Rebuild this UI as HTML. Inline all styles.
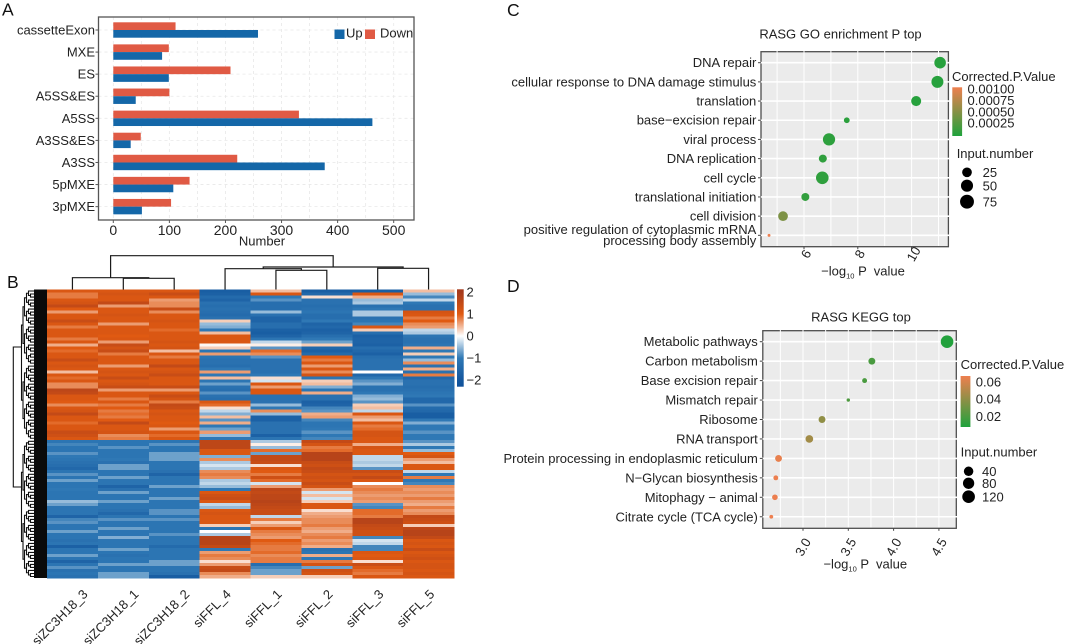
<!DOCTYPE html>
<html lang="en">
<head>
<meta charset="utf-8">
<title>Alternative splicing and RASG enrichment figure</title>
<style>
html,body{margin:0;padding:0;background:#fff;}
svg{display:block;}
text{font-family:"Liberation Sans",Arial,sans-serif;fill:#222;}
.t12{font-size:12px;}
.t13{font-size:13px;}
.t14{font-size:14px;}
.letter{font-size:17.5px;fill:#111;}
</style>
</head>
<body>
<svg id="figure" xmlns="http://www.w3.org/2000/svg" width="1065" height="644" viewBox="0 0 1065 644">
  <defs id="defs"></defs>
  <rect x="0" y="0" width="1065" height="644" fill="#fff"/>

  <text class="letter" x="2" y="15.5">A</text>
  <text class="letter" x="7" y="288">B</text>
  <text class="letter" x="507" y="16">C</text>
  <text class="letter" x="507" y="292">D</text>

  <g id="panelA"></g>
  <text class="t13" x="262" y="245.5" text-anchor="middle">Number</text>
  <rect x="334.5" y="29.5" width="10" height="9.5" fill="#1467a8"/>
  <text class="t13" x="346" y="37.5">Up</text>
  <rect x="365" y="29.5" width="10" height="9.5" fill="#e05a44"/>
  <text class="t13" x="380" y="37.5">Down</text>

  <g id="panelB"></g>

  <g id="panelC"></g>
  <text class="t13" x="840.5" y="38.5" text-anchor="middle">RASG GO enrichment P top</text>
  <text class="t13" x="863" y="275.5" text-anchor="middle" xml:space="preserve">−log<tspan font-size="7.5" dy="3">10</tspan><tspan dy="-3"> P  value</tspan></text>
  <text class="t13" x="952" y="81">Corrected.P.Value</text>
  <text class="t13" x="956.7" y="158">Input.number</text>

  <g id="panelD"></g>
  <text class="t13" x="861" y="321.5" text-anchor="middle">RASG KEGG top</text>
  <text class="t13" x="865.3" y="568.5" text-anchor="middle" xml:space="preserve">−log<tspan font-size="7.5" dy="3">10</tspan><tspan dy="-3"> P  value</tspan></text>
  <text class="t13" x="960.6" y="369">Corrected.P.Value</text>
  <text class="t13" x="960.6" y="456.5">Input.number</text>
</svg>

<script>
/* ---------- Panel A data ---------- */
const splicingTypes = ['cassetteExon','MXE','ES','A5SS&ES','A5SS','A3SS&ES','A3SS','5pMXE','3pMXE'];
const upCounts = [258,87,99,40,462,31,377,107,51];
const downCounts = [111,99,209,100,331,49,221,136,103];
const barTicks = [0,100,200,300,400,500];
const barGridValues = [0,50,100,150,200,250,300,350,400,450,500];

/* ---------- Panel B data ---------- */
const sampleNames = ['siZC3H18_3','siZC3H18_1','siZC3H18_2','siFFL_4','siFFL_1','siFFL_2','siFFL_3','siFFL_5'];
const siZC3H18_3 = [1.1,.8,.8,1.1,1.2,1.5,1.0,.6,1.1,1.1,
1.4,1.1,.8,1.1,1.1,1.1,.8,1.1,.5,1.0,
.9,1.1,1.1,1.4,1.1,1.2,1.1,.4,1.1,.9,
1.1,.7,.7,1.6,1.5,1.1,1.1,1.0,.7,1.1,
1.2,1.5,1.1,1.1,.9,1.1,1.1,1.4,1.3,1.1,
-1.1,-.9,-1.1,-1.1,-.8,-1.0,-1.1,-1.2,-1.3,-1.5,
-1.1,-.8,-1.1,-.7,-1.1,-1.1,-1.0,-1.1,-1.1,-1.1,
-.5,-.7,-1.1,-1.1,-1.1,-1.6,-.9,-.8,-1.1,-1.1,
-.7,-1.1,-1.1,-1.2,-1.1,-1.7,-1.1,-1.1,-.7,-1.1,
-1.6,-1.1,-.8,-1.2,-1.1,-1.2];
const siZC3H18_1 = [1.1,1.2,1.1,1.1,1.5,.6,1.1,1.1,1.2,1.1,
1.1,.6,1.1,1.1,1.1,1.0,1.1,.6,1.4,1.2,
1.4,.8,1.1,1.1,1.1,.6,1.1,1.2,1.1,1.4,
1.1,1.2,1.4,.6,1.1,1.1,.8,1.1,.8,1.0,
.8,.9,.8,1.0,1.5,1.1,1.1,1.2,.7,.8,
-1.1,-1.1,-.8,-1.1,-1.1,-1.1,-1.0,-1.2,-.7,-.7,
-1.1,-1.1,-.7,-1.1,-1.1,-1.6,-1.2,-.7,-1.1,-1.1,
-.7,-1.1,-1.1,-1.2,-1.5,-1.1,-.8,-1.1,-1.1,-.7,
-1.1,-1.1,-.6,-1.1,-1.1,-1.1,-.7,-1.1,-1.2,-1.1,
-1.1,-.7,-1.1,-1.1,-.7,-.7];
const siZC3H18_2 = [1.1,1.4,1.1,.6,.7,.7,1.4,.7,1.1,1.1,
1.2,1.1,1.1,.9,1.1,1.1,1.1,1.2,1.1,1.2,
.4,1.1,.8,1.1,1.1,1.5,1.1,1.2,1.4,1.1,
1.1,1.1,1.4,.6,1.1,1.4,1.2,.8,1.5,1.4,
1.1,1.2,1.1,1.1,1.0,1.1,.6,1.1,.9,1.1,
-1.1,-.8,-1.1,-1.1,-.7,-.7,-.7,-1.1,-1.1,-1.1,
-1.2,-1.6,-1.1,-1.1,-1.1,-.7,-1.1,-1.1,-1.1,-.7,
-1.1,-1.1,-1.1,-.8,-.8,-1.1,-.8,-1.1,-1.1,-1.1,
-1.1,-.8,-1.1,-1.1,-1.1,-1.4,-1.1,-1.1,-1.1,-1.1,
-.7,-.7,-1.1,-1.1,-1.2,-1.8];
const siFFL_4 = [-1.8,-1.7,-1.4,-1.6,-1.2,-1.3,-1.2,-1.3,-1.4,-1.2,
.3,-.5,-.6,-1.0,.4,1.1,1.1,1.1,.05,.3,
-1.1,.6,-1.1,-1.2,-1.2,-1.3,-1.0,.6,-1.0,.4,
-1.1,-.7,-1.2,-1.3,-.8,-1.2,-1.3,1.1,.9,.2,
-.3,-.6,.4,-.8,.5,-1.0,-.7,.6,-.5,-1.0,
1.6,1.6,1.6,1.1,1.1,-.6,.7,-.4,-.2,-.4,
.7,.8,.7,-.4,-.3,-.5,-1.0,1.1,1.3,1.4,
1.1,-.3,-.5,1.1,1.2,1.1,1.1,1.1,.3,-1.1,
0,-.4,1.7,1.7,1.7,1.5,-1.0,.6,.8,.7,
.2,.6,1.4,1.5,.7,.5];
const siFFL_1 = [.4,1.1,-1.0,-.8,-1.3,-1.3,-1.3,-.5,-1.2,-1.6,
-1.6,-1.3,-1.3,-1.7,-1.8,-1.6,-1.1,-.3,.1,-.8,
.9,.7,-.8,-1.2,-1.2,-1.2,-1.2,-1.2,-1.0,.2,
-.2,1.1,.6,1.1,1.1,-1.2,-1.2,-1.2,-.5,-1.0,
.7,-.5,-1.7,-1.7,-1.2,-1.2,-1.2,-1.2,-1.7,-1.1,
-.4,.1,-.5,.9,-.7,1.5,1.5,1.4,.2,1.1,
1.0,.8,1.3,.9,-.2,.6,1.6,1.5,1.6,1.6,
1.7,1.6,1.5,1.4,1.4,-.3,.8,.3,.6,1.1,
.8,.7,.6,1.0,.9,.8,.8,.9,.7,.8,
.8,-1.3,-.9,-.7,-.7,.3];
const siFFL_2 = [-1.8,-1.5,.2,-1.2,-1.2,-1.3,-1.2,-1.1,-1.3,-1.3,
-1.0,-1.6,-1.5,-1.7,-1.6,-1.3,-1.0,-.7,.3,-1.5,
-1.7,-1.4,1.0,.8,1.1,.6,1.1,.7,1.2,-1.1,
.3,.4,-.6,-1.1,.5,-1.2,-1.2,-1.7,-1.6,-.9,
-.8,.5,.6,-.9,-1.1,-1.1,-1.0,-.8,-1.0,-.9,
1.5,1.2,.8,.9,1.7,1.7,1.7,1.4,1.3,1.5,
1.4,1.2,1.3,1.2,1.4,1.2,.6,-.2,.4,-.2,
.3,1.1,1.1,.2,.5,.6,.7,.7,.8,.6,
.5,.7,.8,.6,.7,.5,-1.2,-1.1,.5,-1.0,
.8,1.2,-.7,1.3,1.2,.3];
const siFFL_3 = [-1.8,1.1,.5,-.5,-.4,-1.2,-1.0,-.4,-.4,-1.2,
-1.1,-.9,1.1,.3,-1.3,-1.7,-1.6,-1.6,-1.7,-1.3,
-1.5,-1.7,-1.3,-1.2,-1.2,-1.2,-1.2,0,-1.5,-1.0,
-.8,-.6,-1.2,-1.2,-1.0,-.6,-.5,-.8,.3,.4,
-.3,1.1,.6,.4,1.1,.8,.9,1.2,1.2,1.1,
1.1,.5,1.2,1.1,1.1,-.3,-.3,-.4,-.3,-.8,
1.4,1.2,1.5,1.1,0,.7,.8,.7,.6,.7,
.6,-.8,-.9,.9,.9,.8,1.7,1.7,1.5,1.4,
1.3,1.3,-.9,-.2,-.3,-.9,-.9,1.1,1.0,1.1,
.2,1.4,1.1,.9,.8,1.1];
const siFFL_5 = [.4,-.5,-.9,-.3,-1.0,-1.2,-1.2,1.2,1.1,.8,
1.0,.7,.6,-.3,-.4,-1.1,-1.2,-1.2,-1.1,.5,
-1.0,.3,-1.0,-.5,.7,-1.2,.5,-1.2,.8,-1.5,
-1.2,-1.2,-1.3,-1.2,-1.1,-1.0,-1.5,-1.5,-.8,-1.4,
-1.5,-1.8,-1.8,-1.0,-.6,-1.0,-1.0,-.8,-1.0,-1.0,
-.8,-.4,-1.0,-.5,1.0,1.2,.6,.4,1.1,1.1,
-.3,-1.0,.8,-1.0,-.9,.7,.6,.7,.6,.8,
.6,.5,.8,.6,.7,1.5,1.4,1.3,.3,1.6,
1.7,1.7,1.5,1.1,1.2,1.1,1.4,1.1,1.2,1.3,
1.1,1.2,1.2,1.1,1.2,1.1];
const heatColumns = [siZC3H18_3,siZC3H18_1,siZC3H18_2,siFFL_4,siFFL_1,siFFL_2,siFFL_3,siFFL_5];
const heatTicks = [2,1,0,-1,-2];

/* ---------- Panel C data ---------- */
const goTerms = ['DNA repair','cellular response to DNA damage stimulus','translation','base−excision repair','viral process','DNA replication','cell cycle','translational initiation','cell division','positive regulation of cytoplasmic mRNA|processing body assembly'];
const goLogP = [11.06,10.96,10.17,7.59,6.93,6.7,6.68,6.05,5.22,4.7];
const goInput = [60,65,45,14,68,28,72,28,42,3];
const goCorrectedP = [0.00001,0.00001,0.00001,0.00003,0.00004,0.00005,0.00005,0.00007,0.00045,0.00103];
const goXTicks = [6,8,10];
const goXGrid = [5,6,7,8,9,10,11];
const goColorTicks = [0.001,0.00075,0.0005,0.00025];
const goColorTickLabels = ['0.00100','0.00075','0.00050','0.00025'];
const goSizeTicks = [25,50,75];

/* ---------- Panel D data ---------- */
const keggTerms = ['Metabolic pathways','Carbon metabolism','Base excision repair','Mismatch repair','Ribosome','RNA transport','Protein processing in endoplasmic reticulum','N−Glycan biosynthesis','Mitophagy − animal','Citrate cycle (TCA cycle)'];
const keggLogP = [4.59,3.76,3.68,3.5,3.21,3.07,2.73,2.70,2.69,2.65];
const keggInput = [120,36,18,9,36,45,36,18,24,11];
const keggCorrectedP = [0.0085,0.02,0.02,0.021,0.04,0.045,0.065,0.066,0.066,0.067];
const keggXTicks = [3.0,3.5,4.0,4.5];
const keggXTickLabels = ['3.0','3.5','4.0','4.5'];
const keggXGrid = [2.75,3.0,3.25,3.5,3.75,4.0,4.25,4.5];
const keggColorTicks = [0.06,0.04,0.02];
const keggColorTickLabels = ['0.06','0.04','0.02'];
const keggSizeTicks = [40,80,120];

/* ---------- helpers ---------- */
const NS = 'http://www.w3.org/2000/svg';
function add(parent, tag, attrs, name, text) {
  const el = document.createElementNS(NS, tag);
  for (const k in attrs) el.setAttribute(k, attrs[k]);
  
  
  if (text !== undefined) el.textContent = text;
  parent.appendChild(el);
  return el;
}
function slug(s) { return String(s).toLowerCase().replace(/[^a-z0-9]+/g, '-').replace(/^-|-$/g, ''); }
function hexRgb(h) { return [parseInt(h.slice(1,3),16), parseInt(h.slice(3,5),16), parseInt(h.slice(5,7),16)]; }
function mix(a, b, t) {
  const A = hexRgb(a), B = hexRgb(b);
  return 'rgb(' + A.map((v,i) => Math.round(v + (B[i]-v)*t)).join(',') + ')';
}
function gradient(id, stops) {
  const defs = document.getElementById('defs');
  const g = document.createElementNS(NS, 'linearGradient');
  g.setAttribute('id', id);
  g.setAttribute('x1', '0'); g.setAttribute('y1', '0');
  g.setAttribute('x2', '0'); g.setAttribute('y2', '1');
  stops.forEach(s => {
    const st = document.createElementNS(NS, 'stop');
    st.setAttribute('offset', s[0]);
    st.setAttribute('stop-color', s[1]);
    g.appendChild(st);
  });
  defs.appendChild(g);
}

/* ---------- Panel A ---------- */
(function () {
  const g = document.getElementById('panelA');
  const xA = v => 113.3 + v * 0.5608;
  const yA = i => 30 + i * 22.08;
  const barH = 7.7;
  const frame = {l: 98.5, r: 414, t: 17, b: 220};
  barGridValues.forEach(v => {
    add(g, 'line', {x1:xA(v), x2:xA(v), y1:frame.t, y2:frame.b, stroke:'#e8e8e8', 'stroke-width':0.8, 'stroke-dasharray':'3 3'}, 'bar-gridline-x-' + v);
  });
  splicingTypes.forEach((c,i) => {
    add(g, 'line', {x1:frame.l, x2:frame.r, y1:yA(i), y2:yA(i), stroke:'#e8e8e8', 'stroke-width':0.8, 'stroke-dasharray':'3 3'}, 'bar-gridline-y-' + slug(c));
  });
  splicingTypes.forEach((c,i) => {
    add(g, 'rect', {x:xA(0), y:yA(i)-barH, width:xA(downCounts[i])-xA(0), height:barH, fill:'#e05a44'}, 'bar-down-' + slug(c));
    add(g, 'rect', {x:xA(0), y:yA(i), width:xA(upCounts[i])-xA(0), height:barH, fill:'#1467a8'}, 'bar-up-' + slug(c));
    add(g, 'line', {x1:frame.l-3, x2:frame.l, y1:yA(i), y2:yA(i), stroke:'#555', 'stroke-width':1}, 'bar-y-tick-' + slug(c));
    add(g, 'text', {x:frame.l-3.5, y:yA(i)+4.5, 'text-anchor':'end', class:'t13'}, 'bar-y-label-' + slug(c), c);
  });
  barTicks.forEach(v => {
    add(g, 'line', {x1:xA(v), x2:xA(v), y1:frame.b, y2:frame.b+3, stroke:'#555', 'stroke-width':1}, 'bar-x-tick-' + v);
    add(g, 'text', {x:xA(v), y:frame.b+15, 'text-anchor':'middle', class:'t14'}, 'bar-x-label-' + v, v);
  });
  add(g, 'rect', {x:frame.l, y:frame.t, width:frame.r-frame.l, height:frame.b-frame.t, fill:'none', stroke:'#555', 'stroke-width':1.3}, 'bar-plot-frame');
})();

/* ---------- Panel B ---------- */
const heatStops = [[-2.3,'#10519a'],[-2,'#14579e'],[-1,'#2f78b5'],[0,'#ffffff'],[1,'#e05a12'],[2,'#a53a1c'],[2.15,'#a53a1c']];
function heatColor(v) {
  for (let i = 0; i < heatStops.length - 1; i++) {
    const a = heatStops[i], b = heatStops[i+1];
    if (v <= b[0]) return mix(a[1], b[1], Math.max(0, (v - a[0]) / (b[0] - a[0])));
  }
  return heatStops[heatStops.length-1][1];
}
(function () {
  const g = document.getElementById('panelB');
  const left = 47, right = 454, top = 289.5, bottom = 578;
  const nCols = heatColumns.length, nRows = heatColumns[0].length;
  const colW = (right - left) / nCols, rowH = (bottom - top) / nRows;
  const xCol = c => left + c * colW;
  const yRow = r => top + r * rowH;
  const cells = add(g, 'g', {'shape-rendering':'crispEdges'}, 'heatmap-cells');
  heatColumns.forEach((col, c) => {
    col.forEach((v, r) => {
      add(cells, 'rect', {x:xCol(c), y:yRow(r), width:colW+0.3, height:rowH+0.4, fill:heatColor(v)}, 'heatmap-cell');
    });
  });
  /* sample labels */
  sampleNames.forEach((s, c) => {
    const cx = xCol(c) + colW/2;
    const X = cx + (s.indexOf('siZC') === 0 ? 16 : 6.7);
    add(g, 'text', {x:X, y:595, 'text-anchor':'end', class:'t13', transform:'rotate(-45 ' + X + ' 595)'}, 'heatmap-column-label-' + slug(s), s);
  });
  /* column dendrogram */
  const cx = i => xCol(i) + colW/2;
  const hBase = top;
  const m56 = (cx(4)+cx(5))/2, m456 = (cx(3)+m56)/2, m78 = (cx(6)+cx(7))/2, m23 = (cx(1)+cx(2))/2, mL = (cx(0)+m23)/2, mR = (m456+m78)/2;
  const d = [
    'M',cx(1),hBase,'V',278.3,'H',cx(2),'V',hBase,
    'M',cx(0),hBase,'V',277.7,'H',m23,'V',278.3,
    'M',cx(4),hBase,'V',270.3,'H',cx(5),'V',hBase,
    'M',cx(3),hBase,'V',268.7,'H',m56,'V',270.3,
    'M',cx(6),hBase,'V',268.3,'H',cx(7),'V',hBase,
    'M',m456,268.7,'V',267,'H',m78,'V',268.3,
    'M',mL,277.7,'V',255.7,'H',mR,'V',267
  ].join(' ');
  add(g, 'path', {d:d, fill:'none', stroke:'#1a1a1a', 'stroke-width':1.2}, 'column-dendrogram');
  /* row dendrogram */
  const depthX = [13.3, 21.5, 23, 24.5, 26.5, 28.5, 30.5, 32.5, 34];
  const leafH = rowH;
  let path = '';
  function node(lo, hi, depth) {
    const x = depthX[Math.min(depth, depthX.length - 1)];
    if (hi - lo <= 1) return {y: top + (lo + 0.5) * leafH, x: 34};
    let mid = depth === 0 ? 50 : Math.floor((lo + hi) / 2);
    const a = node(lo, mid, depth + 1), b = node(mid, hi, depth + 1);
    const ya = depth === 0 ? 347 : a.y, yb = depth === 0 ? 487 : b.y;
    path += 'M' + a.x + ' ' + ya + 'H' + x + 'V' + yb + 'H' + b.x;
    return {y: (ya + yb) / 2, x: x};
  }
  node(0, nRows, 0);
  add(g, 'path', {d:path, fill:'none', stroke:'#111', 'stroke-width':1.1}, 'row-dendrogram');
  add(g, 'rect', {x:34, y:top, width:left-34, height:bottom-top, fill:'#0a0a0a'}, 'row-dendrogram-leaf-band');
  /* colour legend */
  const legTop = 289.3, legBottom = 386.7, vTop = 2.12, vBot = -2.3;
  const yLeg = v => legTop + (vTop - v) / (vTop - vBot) * (legBottom - legTop);
  gradient('heatGrad', heatStops.slice().reverse().map(s => [Math.max(0, Math.min(1, (vTop - s[0]) / (vTop - vBot))), s[1]]));
  add(g, 'rect', {x:457, y:legTop, width:6.7, height:legBottom-legTop, fill:'url(#heatGrad)'}, 'heatmap-color-legend-bar');
  heatTicks.forEach(v => {
    add(g, 'text', {x:466.5, y:yLeg(v)+4.5, class:'t13'}, 'heatmap-legend-tick-' + slug(v), v < 0 ? '−' + Math.abs(v) : v);
  });
})();

/* ---------- dot plots ---------- */
function dotPlot(cfg) {
  const g = cfg.group;
  const x = v => cfg.x0 + (v - cfg.xRef) * cfg.xUnit;
  const y = i => cfg.yStart + i * cfg.yStep;
  const f = cfg.frame;
  add(g, 'rect', {x:f.l, y:f.t, width:f.r-f.l, height:f.b-f.t, fill:'#ebebeb', stroke:'#4d4d4d', 'stroke-width':1.3}, cfg.id + '-plot-panel');
  cfg.xGrid.forEach(v => {
    add(g, 'line', {x1:x(v), x2:x(v), y1:f.t-0.8, y2:f.b-0.8, stroke:'#fff', 'stroke-width':1}, cfg.id + '-gridline-x');
  });
  cfg.terms.forEach((t,i) => {
    add(g, 'line', {x1:f.l-1, x2:f.r+1, y1:y(i), y2:y(i), stroke:'#fff', 'stroke-width':1.6}, cfg.id + '-gridline-y');
    add(g, 'line', {x1:f.l-3, x2:f.l, y1:y(i), y2:y(i), stroke:'#444', 'stroke-width':1}, cfg.id + '-y-tick');
    const lines = t.split('|');
    if (lines.length === 1) {
      add(g, 'text', {x:cfg.labelX, y:y(i)+4.5, 'text-anchor':'end', class:'t13'}, cfg.id + '-term-label', t);
    } else {
      add(g, 'text', {x:cfg.labelX, y:y(i)-1.3, 'text-anchor':'end', class:'t13'}, cfg.id + '-term-label-line-1', lines[0]);
      add(g, 'text', {x:cfg.labelX, y:y(i)+9.7, 'text-anchor':'end', class:'t13'}, cfg.id + '-term-label-line-2', lines[1]);
    }
  });
  cfg.xTicks.forEach((v,i) => {
    add(g, 'line', {x1:x(v), x2:x(v), y1:f.b, y2:f.b+2.5, stroke:'#444', 'stroke-width':1}, cfg.id + '-x-tick');
    const tx = x(v) + cfg.tickDx, ty = cfg.tickY;
    add(g, 'text', {x:tx, y:ty, 'text-anchor':'middle', 'dominant-baseline':'central', class:'t13', transform:'rotate(-60 ' + tx + ' ' + ty + ')'}, cfg.id + '-x-tick-label', cfg.xLabels[i]);
  });
  const colorOf = p => {
    const t = Math.max(0, Math.min(1, (cfg.pMax - p) / (cfg.pMax - cfg.pMin)));
    return mix('#ee7f4f', '#1fa23c', t);
  };
  cfg.logP.forEach((v,i) => {
    add(g, 'circle', {cx:x(v), cy:y(i), r:cfg.radius(cfg.input[i]), fill:colorOf(cfg.pValues[i])}, cfg.id + '-dot-' + slug(cfg.terms[i]).slice(0,30));
  });
  /* colour legend */
  const L = cfg.colorLegend;
  gradient(cfg.id + 'Grad', [[0,'#ee7f4f'],[1,'#1fa23c']]);
  add(g, 'rect', {x:L.x, y:L.top, width:9.8, height:L.bottom-L.top, fill:'url(#' + cfg.id + 'Grad)'}, cfg.id + '-color-legend-bar');
  const yP = p => L.top + (cfg.pMax - p) / (cfg.pMax - cfg.pMin) * (L.bottom - L.top);
  cfg.colorTicks.forEach((p,i) => {
    add(g, 'text', {x:L.labelX, y:yP(p)+4.6, class:'t13'}, cfg.id + '-color-legend-label', cfg.colorLabels[i]);
  });
  /* size legend */
  const S = cfg.sizeLegend;
  cfg.sizeTicks.forEach((n,i) => {
    add(g, 'circle', {cx:S.x, cy:S.ys[i], r:S.radius(n), fill:'#000'}, cfg.id + '-size-legend-dot-' + n);
    add(g, 'text', {x:S.labelX, y:S.ys[i]+4.6, class:'t13'}, cfg.id + '-size-legend-label-' + n, n);
  });
}

dotPlot({
  id:'go', group:document.getElementById('panelC'),
  terms:goTerms, logP:goLogP, input:goInput, pValues:goCorrectedP,
  x0:804, xRef:6, xUnit:26.9,
  yStart:62.7, yStep:19.18,
  frame:{l:761,r:948.4,t:51.7,b:246.7},
  labelX:756.3,
  xTicks:goXTicks, xLabels:goXTicks.map(String), xGrid:goXGrid,
  tickDx:2, tickY:254,
  radius:n => 0.2 + 0.72 * Math.sqrt(n),
  pMax:0.00103, pMin:-0.00003,
  colorTicks:goColorTicks, colorLabels:goColorTickLabels,
  colorLegend:{x:952.3, top:87.3, bottom:136, labelX:967.5},
  sizeTicks:goSizeTicks,
  sizeLegend:{x:967, ys:[172.3,185.7,201.7], labelX:982.6, radius:n => 2 + 0.57 * Math.sqrt(n)}
});

dotPlot({
  id:'kegg', group:document.getElementById('panelD'),
  terms:keggTerms, logP:keggLogP, input:keggInput, pValues:keggCorrectedP,
  x0:803, xRef:3, xUnit:90.6,
  yStart:341.7, yStep:19.45,
  frame:{l:762.8,r:956.3,t:330.7,b:528.3},
  labelX:757.8,
  xTicks:keggXTicks, xLabels:keggXTickLabels, xGrid:keggXGrid,
  tickDx:0, tickY:547,
  radius:n => 0.575 * Math.sqrt(n),
  pMax:0.0667, pMin:0.0076,
  colorTicks:keggColorTicks, colorLabels:keggColorTickLabels,
  colorLegend:{x:960.6, top:376, bottom:427, labelX:975.8},
  sizeTicks:keggSizeTicks,
  sizeLegend:{x:968.6, ys:[471.3,483.3,496.7], labelX:982, radius:n => 2.6 + 0.34 * Math.sqrt(n)}
});
</script>
</body>
</html>
